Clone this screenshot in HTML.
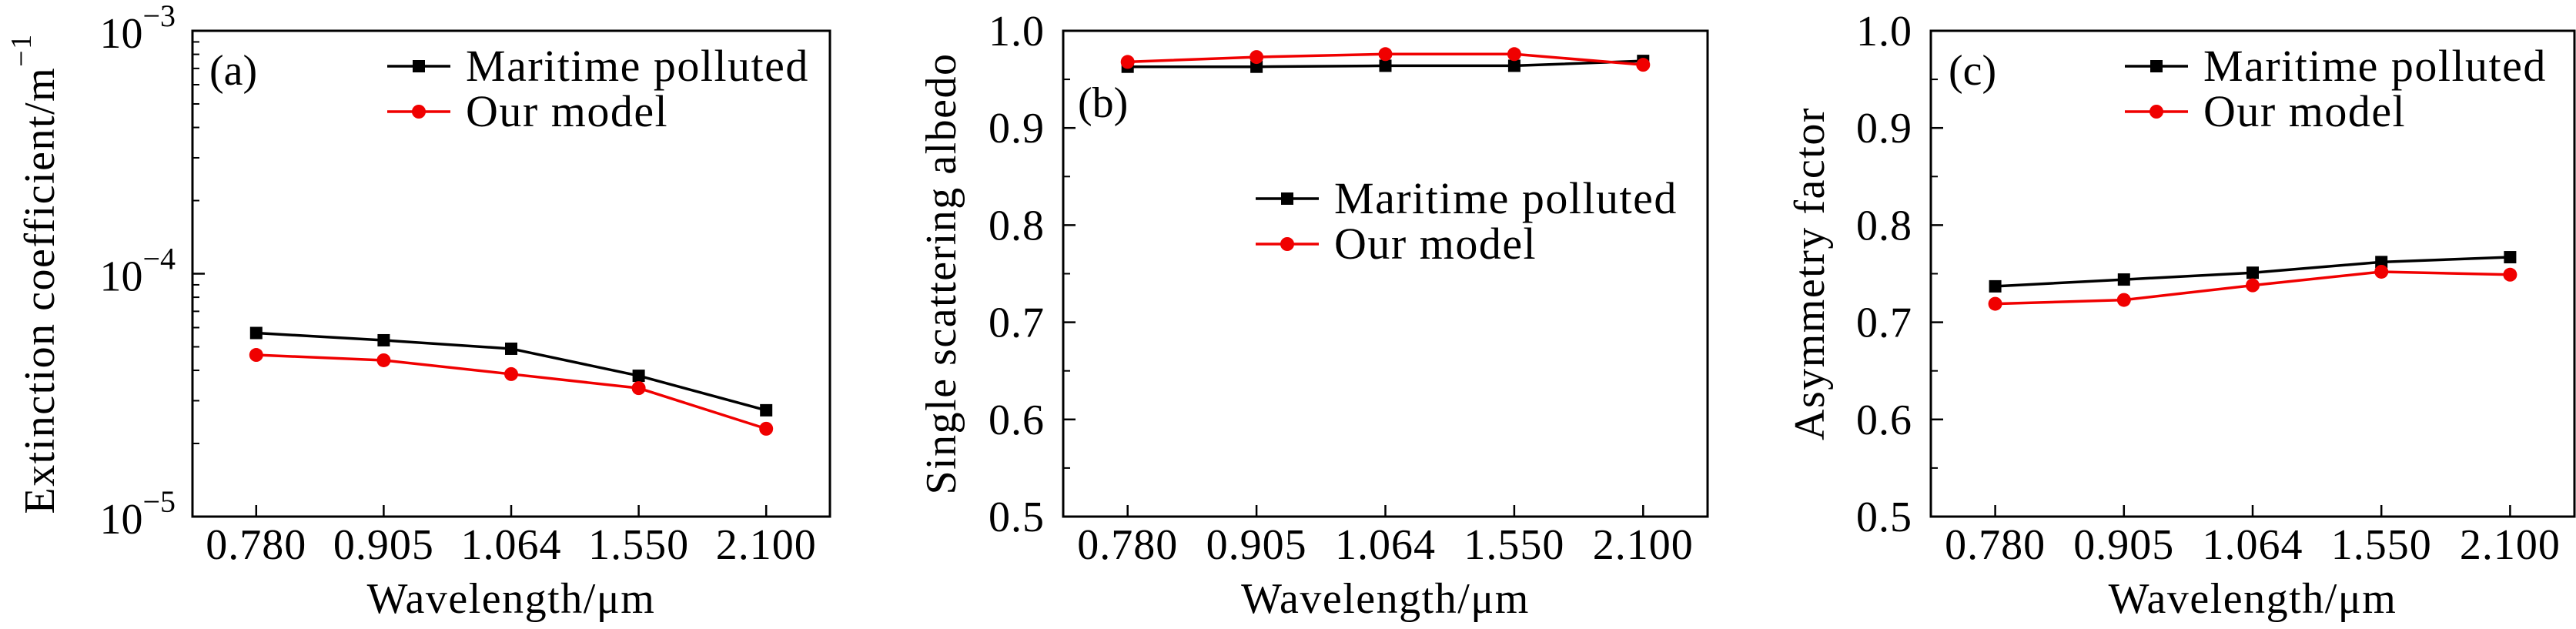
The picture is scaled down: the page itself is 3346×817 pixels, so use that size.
<!DOCTYPE html>
<html><head><meta charset="utf-8"><style>
html,body{margin:0;padding:0;background:#fff}
svg{display:block}
text{font-family:"Liberation Serif",serif;fill:#000}
</style></head><body>
<svg id="fig" width="3346" height="817" viewBox="0 0 3346 817" xmlns="http://www.w3.org/2000/svg"></svg>
<script>
const categories = ["0.780","0.905","1.064","1.550","2.100"];
const extMaritime = [5.7e-5,5.32e-5,4.91e-5,3.8e-5,2.74e-5];
const extModel = [4.63e-5,4.4e-5,3.86e-5,3.38e-5,2.3e-5];
const ssaMaritime = [0.963,0.963,0.964,0.964,0.969];
const ssaModel = [0.968,0.973,0.976,0.976,0.965];
const asyMaritime = [0.737,0.744,0.751,0.762,0.767];
const asyModel = [0.719,0.723,0.738,0.752,0.749];
const linTicks = ["0.5","0.6","0.7","0.8","0.9","1.0"];
const logExps = ["-5","-4","-3"];

const NS="http://www.w3.org/2000/svg";
const svg=document.getElementById('fig');
function mk(tag,attrs,parent){const e=document.createElementNS(NS,tag);for(const k in attrs)e.setAttribute(k,attrs[k]);(parent||svg).appendChild(e);return e;}
const TOP=40,BOT=671;

function panel(id,left,right,yScale,ylabel,ylabelX,series,legend,tag,tagPos,isLog){
  const g=mk('g',{});
  
  
  const step=(right-left)/categories.length;
  const xs=i=>left+step*(i+0.5);
  const fr=mk('rect',{x:left,y:TOP,width:right-left,height:BOT-TOP,fill:'none',stroke:'#000','stroke-width':3},g);
  
  
  categories.forEach((c,i)=>{
    const x=xs(i);
    mk('line',{x1:x,y1:BOT,x2:x,y2:BOT-15,stroke:'#000','stroke-width':2.5},g);
    const t=mk('text',{x:x,y:726,'font-size':56,'text-anchor':'middle','letter-spacing':1},g);
    t.textContent=c;
    
    
  });
  const xl=mk('text',{x:(left+right)/2,y:796,'font-size':56,'text-anchor':'middle','letter-spacing':1.5},g);
  xl.textContent='Wavelength/μm';
  
  
  if(isLog){
    logExps.forEach(e=>{
      const y=yScale(Math.pow(10,+e));
      mk('line',{x1:left,y1:y,x2:left+16,y2:y,stroke:'#000','stroke-width':2.5},g);
      const t=mk('text',{x:left-22,y:y+22,'font-size':56,'text-anchor':'end'},g);
      const a=mk('tspan',{},t);a.textContent='10';
      const b=mk('tspan',{dy:-28,'font-size':40},t);b.textContent='−'+e.slice(1);
      
      
    });
    for(let d=-5;d<-3;d++)for(let m=2;m<=9;m++){
      const y=yScale(m*Math.pow(10,d));
      mk('line',{x1:left,y1:y,x2:left+9,y2:y,stroke:'#000','stroke-width':2},g);
    }
  } else {
    linTicks.forEach((v,i)=>{
      const y=yScale(+v);
      mk('line',{x1:left,y1:y,x2:left+16,y2:y,stroke:'#000','stroke-width':2.5},g);
      const t=mk('text',{x:left-24,y:y+19,'font-size':56,'text-anchor':'end','letter-spacing':1},g);
      t.textContent=v;
      
      
      if(i<linTicks.length-1){const ym=yScale(+v+0.05);mk('line',{x1:left,y1:ym,x2:left+9,y2:ym,stroke:'#000','stroke-width':2},g);}
    });
  }
  const yl=mk('text',{x:ylabelX,y:(TOP+BOT)/2,'font-size':56,'text-anchor':'middle','letter-spacing':1.5,transform:`rotate(-90 ${ylabelX} ${(TOP+BOT)/2})`,'dominant-baseline':'central'},g);
  if(isLog){const a=mk('tspan',{},yl);a.textContent='Extinction coefficient/m';const b=mk('tspan',{dy:-24,'font-size':38},yl);b.textContent='−1';}
  else yl.textContent=ylabel;
  
  
  series.forEach(s=>{
    const pts=s.vals.map((v,i)=>xs(i)+','+yScale(v)).join(' ');
    const pl=mk('polyline',{points:pts,fill:'none',stroke:s.color,'stroke-width':3.5},g);
    
    
    s.vals.forEach((v,i)=>{
      let m;
      if(s.square)m=mk('rect',{x:xs(i)-8,y:yScale(v)-8,width:16,height:16,fill:s.color},g);
      else m=mk('circle',{cx:xs(i),cy:yScale(v),r:9,fill:s.color},g);
      
      
    });
  });
  series.forEach((s,k)=>{
    const y=legend.y+k*59;
    mk('line',{x1:legend.x,y1:y,x2:legend.x+82,y2:y,stroke:s.color,'stroke-width':3.5},g);
    const mx=legend.x+41;
    if(s.square)mk('rect',{x:mx-8,y:y-8,width:16,height:16,fill:s.color},g);
    else mk('circle',{cx:mx,cy:y,r:9,fill:s.color},g);
    const t=mk('text',{x:legend.x+102,y:y+19,'font-size':58,'letter-spacing':1.5},g);
    t.textContent=s.name;
    
    
  });
  const pt=mk('text',{x:tagPos[0],y:tagPos[1],'font-size':56},g);
  pt.textContent=tag;
  
  
}

const logY=v=>BOT-(Math.log10(v)+5)/2*(BOT-TOP);
const linY=v=>BOT-(v-0.5)/0.5*(BOT-TOP);
function S(a,b){return [{key:'maritime-polluted',name:'Maritime polluted',vals:a,color:'#000',square:true},{key:'our-model',name:'Our model',vals:b,color:'#f00000',square:false}];}

panel('a',250,1078,logY,'',52,S(extMaritime,extModel),{x:503,y:86},'(a)',[272,110],true);
panel('b',1381,2218,linY,'Single scattering albedo',1223,S(ssaMaritime,ssaModel),{x:1631,y:258},'(b)',[1400,152],false);
panel('c',2508,3344,linY,'Asymmetry factor',2351,S(asyMaritime,asyModel),{x:2760,y:86},'(c)',[2531,110],false);
</script>
</body></html>
